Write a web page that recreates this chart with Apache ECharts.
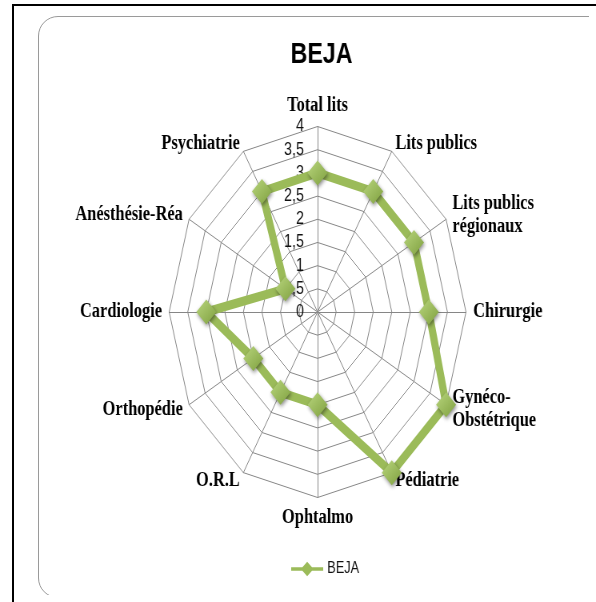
<!DOCTYPE html>
<html>
<head>
<meta charset="utf-8">
<script src="https://cdn.jsdelivr.net/npm/echarts@6/dist/echarts.min.js"></script>
<style>
  html, body { margin: 0; padding: 0; background: #fff; overflow: hidden; }
  #frame { position: absolute; left: 12px; top: 4px; width: 640px; height: 660px; border: 2px solid #000; box-sizing: border-box; }
  #clip { position: absolute; left: 0; top: 0; width: 589px; height: 595px; overflow: hidden; }
  #card { position: absolute; left: 38px; top: 16px; width: 620px; height: 582px; border: 1.5px solid #9a9a9a; border-radius: 20px; box-sizing: border-box; }
  /* the original picture is squeezed horizontally, so draw wider and squeeze */
  #chart { position: absolute; left: 0; top: 0; width: 745px; height: 602px; transform: scaleX(0.8); transform-origin: 0 0; }
</style>
</head>
<body>
<div id="frame"></div>
<div id="clip"><div id="card"></div></div>
<div id="chart"></div>
<script>
// axes, clockwise from the top
const categories = [
  "Total lits", "Lits publics", "Lits publics\nrégionaux", "Chirurgie",
  "Gynéco-\nObstétrique", "Pédiatrie", "Ophtalmo", "O.R.L",
  "Orthopédie", "Cardiologie", "Anésthésie-Réa", "Psychiatrie"
]
const bejaValues = [3, 3, 3, 3, 4, 4, 2, 2, 2, 3, 1, 3]
const axisMax = 4
const splitCount = 8

// echarts lays indicators counter-clockwise: keep the first, reverse the rest
const order = [0].concat(categories.map((c, i) => i).slice(1).reverse())

const indicators = order.map((i, k) => ({
  name: categories[i],
  max: axisMax,
  min: 0,
  axisLabel: { show: k === 0 }
}))

const green = "#9bbb59"
const chart = echarts.init(document.getElementById("chart"))

chart.setOption({
  animation: false,
  title: {
    text: "BEJA",
    left: 397,
    textAlign: "center",
    top: 35,
    textStyle: { fontFamily: "Liberation Sans", fontWeight: "bold", fontSize: 29, color: "#000" }
  },
  legend: {
    data: ["BEJA"],
    left: 359,
    top: 556,
    itemWidth: 40,
    itemHeight: 15,
    itemGap: 6,
    icon: "path://M0,5.5h14l6,-5.5l6,5.5h14v3.5h-14l-6,5.5l-6,-5.5h-14z",
    itemStyle: { color: green, borderWidth: 0 },
    textStyle: { fontFamily: "Liberation Sans", fontSize: 16, color: "#111" }
  },
  radar: {
    center: [397, 312],
    radius: 185.5,
    shape: "polygon",
    splitNumber: splitCount,
    nameGap: 9,
    axisName: {
      color: "#000",
      fontFamily: "Liberation Serif",
      fontWeight: "bold",
      fontSize: 20.5,
      lineHeight: 23
    },
    axisLine: { lineStyle: { color: "#868686", width: 1 } },
    splitLine: { lineStyle: { color: "#868686", width: 1 } },
    splitArea: { show: false },
    axisTick: { show: false },
    axisLabel: {
      color: "#111",
      fontFamily: "Liberation Sans",
      fontSize: 18,
      margin: 17,
      padding: [6, 0, 0, 0],
      formatter: v => String(v).replace(".", ",")
    },
    indicator: indicators
  },
  series: [{
    name: "BEJA",
    type: "radar",
    symbol: "diamond",
    symbolSize: 25,
    lineStyle: { color: green, width: 9 },
    itemStyle: {
      color: new echarts.graphic.LinearGradient(0, 0, 1, 1, [
        { offset: 0, color: "#b9d67e" },
        { offset: 1, color: "#7fa03f" }
      ]),
      shadowColor: "rgba(0,0,0,0.45)",
      shadowBlur: 4,
      shadowOffsetX: 1,
      shadowOffsetY: 2
    },
    data: [{ name: "BEJA", value: order.map(i => bejaValues[i]) }]
  }]
})
</script>
</body>
</html>
